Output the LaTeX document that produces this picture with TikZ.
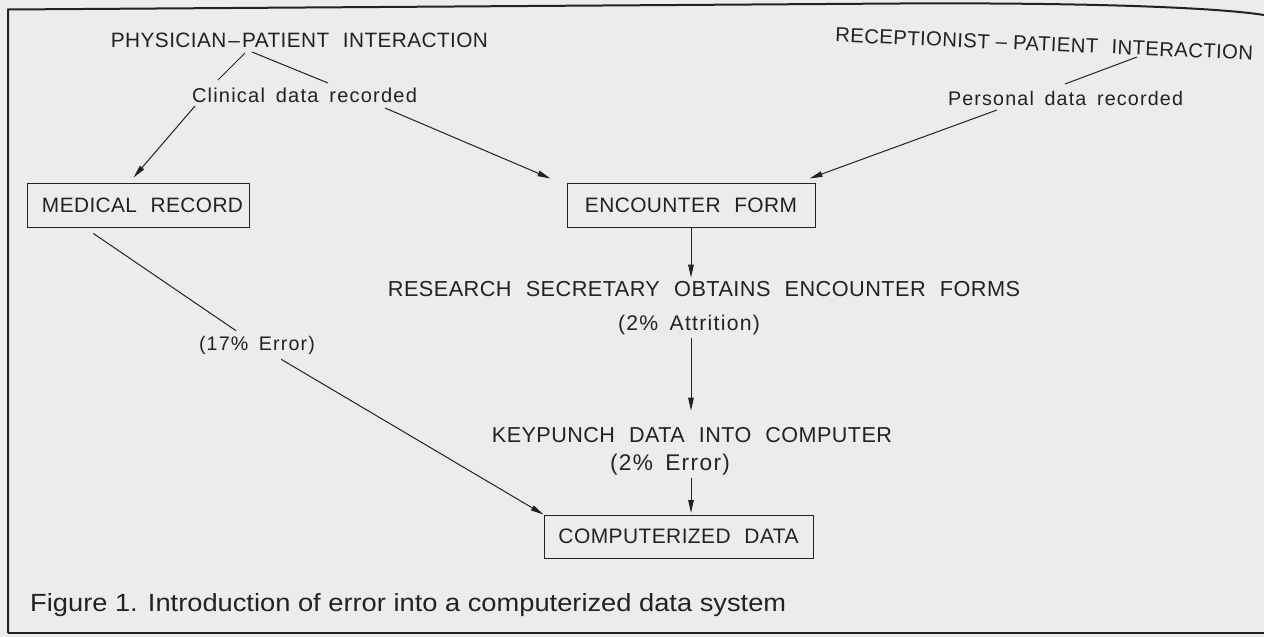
\documentclass[tikz,border=0pt]{standalone}
\usepackage{graphicx}
\usepackage{fontspec}
\setmainfont{Liberation Sans}[LetterSpace=2, WordSpace=2.2]
\newfontfamily\lcfont{Liberation Sans}[LetterSpace=6, WordSpace=1.6]
\newfontfamily\capfont{Liberation Sans}[FakeStretch=0.85]
\usetikzlibrary{arrows.meta,calc}
\definecolor{bgc}{RGB}{236,236,234}
\definecolor{ink}{RGB}{34,34,34}
\newcommand{\fitw}[2]{\resizebox{#1pt}{!}{#2}}
\tikzset{
  txt/.style={inner sep=3pt, text=ink},
  boxnode/.style={draw=ink, line width=1pt, inner sep=0pt, text=ink},
  arr/.style={draw=ink, line width=1pt, -{Triangle[length=13pt,width=5.5pt]}},
  ln/.style={draw=ink, line width=1pt},
  frameline/.style={draw=ink, line width=2pt}
}
\begin{document}
\begin{tikzpicture}[x=1pt,y=-1pt]
\useasboundingbox (0,0) rectangle (1264,637);
\fill[bgc] (0,0) rectangle (1264,637);
% frame
\draw[frameline] (8,633) -- (8,9.5) -- (900,3.5) .. controls (1100,2.5) and (1220,8) .. (1264,15);
\draw[frameline, line width=2.5pt] (8,633) -- (1264,633);

% text nodes
\node[txt, anchor=base] (phys) at (299.5,47) {\fitw{377}{PHYSICIAN\kern1pt–\kern1ptPATIENT INTERACTION}};
\node[txt, anchor=base] (clin) at (304.5,102) {\fitw{225}{\lcfont Clinical data recorded}};
\node[txt, anchor=base, rotate=-2.5] (rec) at (1044,51) {\fitw{418}{RECEPTIONIST\kern3pt–\kern3ptPATIENT INTERACTION}};
\node[txt, anchor=base] (pers) at (1065.5,105) {\fitw{235}{\lcfont Personal data recorded}};
\node[boxnode, minimum width=222pt, minimum height=44pt] (med) at (138,205) {\hspace*{9pt}\fitw{201}{MEDICAL RECORD}};
\node[boxnode, minimum width=248pt, minimum height=44pt] (enc) at (691,205) {\fitw{212}{ENCOUNTER FORM}};
\node[txt, anchor=base] (res) at (704,296) {\fitw{632}{RESEARCH SECRETARY OBTAINS ENCOUNTER FORMS}};
\node[txt, anchor=base] (att) at (689,330) {\fitw{142}{\lcfont (2\% Attrition)}};
\node[txt, anchor=base] (key) at (692,442) {\fitw{400}{KEYPUNCH DATA INTO COMPUTER}};
\node[txt, anchor=base] (err2) at (670,470) {\fitw{120}{\lcfont (2\% Error)}};
\node[boxnode, minimum width=269pt, minimum height=43pt] (comp) at (678.5,536.5) {\fitw{240}{COMPUTERIZED DATA}};
\node[txt, anchor=base west, inner sep=0pt] (cap) at (30,611) {\resizebox{756pt}{18pt}{\capfont Figure 1. Introduction of error into a computerized data system}};

% connector points
\coordinate (p0a) at (245,53);
\coordinate (p0b) at (218,80);
\coordinate (p1a) at (252,52);
\coordinate (p1b) at (328,83);
\coordinate (r0a) at (1137,57);
\coordinate (r0b) at (1065,84);
\coordinate (c1) at (195,106);
\coordinate (c2) at (385,108);
\coordinate (q1) at (997,110);
\coordinate (m1) at ($(med.south west)!0.3!(med.south east)+(0,6)$);
\node[txt, inner sep=5pt] (e17) at (257,345) {\fitw{116}{\lcfont (17\% Error)}};

% connectors
\draw[ln] (p0a) -- (p0b);
\draw[ln] (p1a) -- (p1b);
\draw[ln] (r0a) -- (r0b);
\draw[arr] (c1) -- ($(med.north west)!0.48!(med.north east)+(0,-5)$);
\draw[arr] (c2) -- ($(enc.north west)+(-16,-4)$);
\draw[arr] (q1) -- ($(enc.north east)+(-6,-4)$);
\draw[arr] (enc.south) -- (enc.south |- res.north);
\draw[arr, shorten >=13pt] (enc.south |- att.south) -- (enc.south |- key.north);
\draw[arr, shorten >=1.5pt] (enc.south |- err2.south) -- (enc.south |- comp.north);
\draw[ln] (m1) -- (e17);
\draw[arr] (e17) -- (comp.north west);
\end{tikzpicture}
\end{document}
